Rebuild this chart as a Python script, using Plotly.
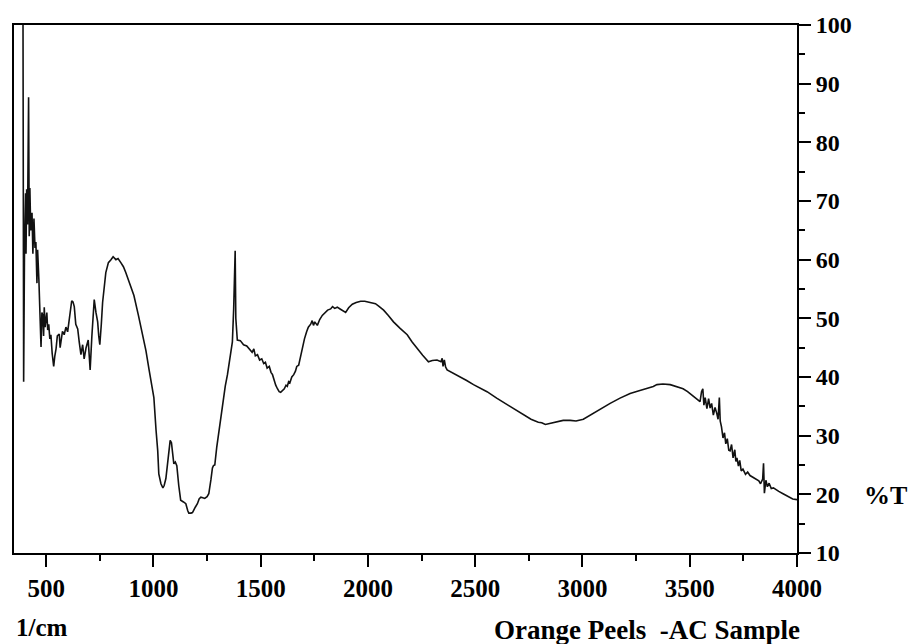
import plotly.graph_objects as go

# Wavenumber (1/cm) and transmittance (%T)
wavenumber = [
    392, 395, 399, 404, 406, 409, 413, 418, 421, 424, 428, 434, 438, 443, 448, 452, 457, 460, 466, 471,
    476, 480, 484, 488, 491, 495, 499, 503, 507, 512, 517, 522, 528, 535, 540, 546, 552, 561, 565, 569,
    576, 584, 592, 600, 610, 619, 625, 631, 638, 647, 654, 662, 670, 677, 686, 696, 700, 705, 713, 724,
    732, 740, 745, 750, 757, 763, 778, 790, 802, 812, 825, 835, 848, 860, 871, 890, 909, 930, 949, 965,
    979, 990, 1002, 1012, 1020, 1025, 1035, 1044, 1050, 1058, 1065, 1072, 1078, 1084, 1090, 1095, 1102, 1109, 1118, 1127,
    1140, 1151, 1160, 1165, 1175, 1182, 1195, 1205, 1213, 1221, 1230, 1239, 1250, 1258, 1268, 1275, 1280, 1286, 1295, 1304,
    1314, 1322, 1335, 1345, 1358, 1368, 1374, 1378, 1381, 1384, 1391, 1405, 1420, 1435, 1445, 1453, 1460, 1468, 1475, 1485,
    1495, 1505, 1514, 1522, 1530, 1540, 1548, 1555, 1562, 1570, 1578, 1586, 1593, 1600, 1610, 1618, 1624, 1630, 1636, 1645,
    1654, 1662, 1668, 1677, 1685, 1694, 1704, 1714, 1722, 1733, 1740, 1746, 1752, 1764, 1775, 1787, 1800, 1812, 1826, 1835,
    1845, 1857, 1870, 1885, 1896, 1910, 1927, 1945, 1966, 1985, 2000, 2020, 2035, 2050, 2073, 2095, 2119, 2150, 2183, 2205,
    2229, 2255, 2282, 2300, 2322, 2340, 2346, 2350, 2356, 2362, 2369, 2400, 2431, 2460, 2492, 2525, 2555, 2600, 2648, 2690,
    2724, 2760, 2794, 2810, 2827, 2850, 2881, 2910, 2943, 2970, 3004, 3035, 3067, 3100, 3129, 3175, 3222, 3260, 3300, 3330,
    3347, 3375, 3409, 3440, 3469, 3490, 3516, 3535, 3548, 3555, 3561, 3566, 3572, 3580, 3588, 3595, 3602, 3610, 3618, 3626,
    3632, 3638, 3642, 3648, 3655, 3662, 3668, 3675, 3682, 3688, 3695, 3702, 3710, 3715, 3720, 3727, 3733, 3740, 3748, 3760,
    3770, 3781, 3795, 3810, 3822, 3830, 3840, 3844, 3848, 3855, 3862, 3870, 3880, 3890, 3900, 3915, 3935, 3960, 3980, 4000,
]
transmittance = [
    100, 39.2, 62, 71.3, 61, 72, 66, 87.7, 64, 72.2, 65, 68, 61, 67, 62, 63, 56, 61.7, 56.6, 51,
    45.1, 51, 50.5, 47, 51.9, 48.5, 49.4, 51, 48, 49, 46.5, 47.2, 44, 41.8, 43.5, 44.8, 47, 47.3, 45, 46,
    47.8, 47.2, 48.5, 47.7, 50.5, 53, 52.8, 52, 49, 48.2, 46, 43.8, 45.5, 43.1, 45, 46.3, 44, 41.2, 47, 53.2,
    51, 49.4, 47, 45.5, 49, 52.7, 57.8, 59.5, 60, 60.5, 60, 60.2, 59.5, 58.8, 57.8, 56, 53.9, 50.5, 47.2, 44.5,
    41.4, 39, 36.5, 31, 27.4, 23.5, 21.8, 21.1, 21.5, 22.7, 25, 27.9, 29.2, 28.8, 26.5, 25.2, 25.5, 24.9, 21.5, 19,
    18.7, 18.4, 17.2, 16.8, 16.8, 16.9, 17.8, 18.4, 19.2, 19.5, 19.4, 19.3, 19.6, 20.1, 22.5, 24.5, 24.9, 25, 28, 30.3,
    33.5, 35.8, 38.5, 40.4, 43.5, 46, 51.6, 56, 61.5, 50, 46.3, 46.2, 45.5, 45.3, 44.8, 44.6, 44.2, 44.8, 43.6, 43.8,
    42.9, 43.1, 42.3, 42.5, 41.5, 41.8, 40.8, 40.4, 39.5, 38.6, 38, 37.5, 37.4, 37.6, 38, 38.6, 38.4, 39.2, 39, 40,
    40.4, 41, 41.8, 42, 43.5, 44.8, 46.5, 47.7, 48.5, 49, 49.6, 48.8, 49.4, 48.8, 49.8, 50.5, 51, 51.4, 51.6, 52,
    51.7, 51.9, 51.6, 51.3, 51, 51.8, 52.4, 52.7, 52.9, 52.9, 52.8, 52.7, 52.5, 52.1, 51.4, 50.5, 49.4, 48.3, 47.2, 46,
    44.8, 43.7, 42.6, 42.8, 42.9, 42.6, 43.2, 41.8, 42.9, 41.7, 41.2, 40.6, 40.1, 39.4, 38.7, 38.1, 37.5, 36.4, 35.3, 34.4,
    33.6, 32.8, 32.3, 32.2, 31.9, 32.1, 32.3, 32.6, 32.6, 32.5, 32.8, 33.5, 34.2, 34.9, 35.5, 36.4, 37.2, 37.6, 38, 38.4,
    38.7, 38.8, 38.7, 38.4, 38, 37.5, 36.7, 36.2, 35.8, 37.5, 38, 35.2, 36.5, 34.6, 36.3, 34.7, 35.5, 33.5, 34.8, 33.8,
    32.8, 36.5, 32.5, 31.5, 29.6, 30.5, 28.6, 29.5, 27.5, 27.4, 28.5, 26.2, 27.6, 25.6, 26.2, 24.8, 25.8, 24, 24.3, 23.4,
    23.8, 23.2, 22.9, 22.6, 22.3, 21.8, 22.6, 25.3, 20.2, 22.4, 21.3, 21.9, 21, 21.1, 20.8, 20.5, 20.1, 19.6, 19.2, 19.1,
]

x_ticks = [500, 1000, 1500, 2000, 2500, 3000, 3500, 4000]
y_ticks = [10, 20, 30, 40, 50, 60, 70, 80, 90, 100]

FONT = "Liberation Serif, Times New Roman, serif"

fig = go.Figure()
fig.add_trace(go.Scatter(
    x=wavenumber, y=transmittance, mode="lines",
    line=dict(color="#111111", width=1.6), showlegend=False,
))

fig.update_layout(
    width=909, height=644,
    margin=dict(l=13, r=112, t=21, b=91),
    paper_bgcolor="white", plot_bgcolor="white",
    font=dict(family=FONT, color="black"),
    xaxis=dict(
        range=[350, 4000], tickvals=x_ticks, ticktext=[str(v) for v in x_ticks],
        ticks="outside", ticklen=12, tickwidth=2, tickcolor="black",
        showline=True, linecolor="black", linewidth=2, mirror=True,
        showgrid=False, zeroline=False,
        tickfont=dict(family=FONT, size=25, color="black", weight="bold"),
        minor=dict(ticks="outside", ticklen=6, tickwidth=2, tickcolor="black",
                   tick0=250, dtick=500, showgrid=False),
    ),
    yaxis=dict(
        range=[10, 100], side="right", tickvals=y_ticks, ticktext=[str(v) for v in y_ticks],
        ticks="outside", ticklen=12, tickwidth=2, tickcolor="black",
        showline=True, linecolor="black", linewidth=2, mirror=True,
        showgrid=False, zeroline=False,
        tickfont=dict(family=FONT, size=24, color="black", weight="bold"),
        minor=dict(ticks="outside", ticklen=6, tickwidth=2, tickcolor="black",
                   tick0=5, dtick=10, showgrid=False),
    ),
    annotations=[
        dict(text="1/cm", xref="paper", yref="paper", x=0, y=-0.141,
             xanchor="left", yanchor="middle", showarrow=False,
             font=dict(family=FONT, size=25, color="black", weight="bold")),
        dict(text="Orange Peels  -AC Sample", xref="paper", yref="paper", x=0.8087, y=-0.145,
             xanchor="center", yanchor="middle", showarrow=False,
             font=dict(family=FONT, size=27, color="black", weight="bold")),
        dict(text="%T", xref="paper", yref="paper", x=1.083, y=0.109,
             xanchor="left", yanchor="middle", showarrow=False,
             font=dict(family=FONT, size=26, color="black", weight="bold")),
    ],
)

fig.write_html("out.html")
